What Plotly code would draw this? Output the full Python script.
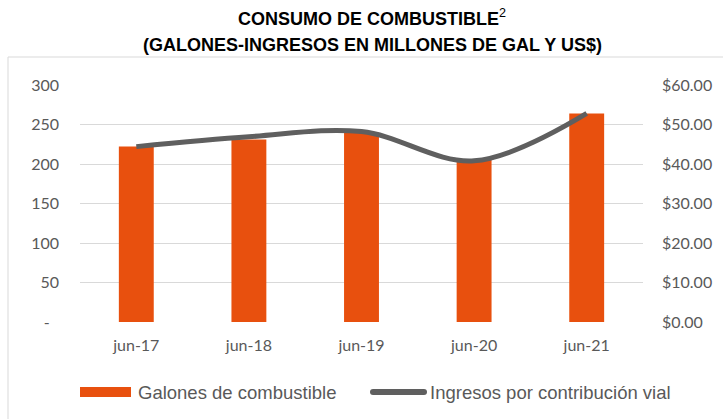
import plotly.graph_objects as go

categories = ["jun-17", "jun-18", "jun-19", "jun-20", "jun-21"]
galones = [222, 231, 240, 205, 264]
ingresos = [44.4, 46.9, 48.2, 40.8, 52.8]

left_ticks = [0, 50, 100, 150, 200, 250, 300]
left_text = ["-\u2007", "50", "100", "150", "200", "250", "300"]
right_ticks = [0, 10, 20, 30, 40, 50, 60]
right_text = ["$0.00", "$10.00", "$20.00", "$30.00", "$40.00", "$50.00", "$60.00"]

bar_color = "#E8500E"
line_color = "#5F5F5F"
text_color = "#595959"
grid_color = "#D9D9D9"

W, H = 723, 419
L, R, T, B = 80, 80, 85, 97
pw, ph = W - L - R, H - T - B


def px(x):
    return (x - L) / pw


def py(y):
    return (H - B - y) / ph


fig = go.Figure()
fig.add_trace(go.Bar(x=categories, y=galones, name="Galones de combustible",
                     marker=dict(color=bar_color, line=dict(width=0)),
                     yaxis="y", showlegend=False))
fig.add_trace(go.Scatter(x=categories, y=ingresos, name="Ingresos por contribución vial",
                         mode="lines", line=dict(color=line_color, width=5, shape="spline", smoothing=1),
                         yaxis="y2", showlegend=False))

tick_font = dict(family="Lato, Carlito, sans-serif", size=16, color=text_color)

shapes = [
    # outer chart border
    dict(type="rect", xref="paper", yref="paper", x0=px(8), x1=px(760), y0=py(460), y1=py(57),
         line=dict(color=grid_color, width=1), fillcolor="rgba(0,0,0,0)", layer="below"),
    # legend swatches
    dict(type="rect", xref="paper", yref="paper", x0=px(80), x1=px(131), y0=py(397), y1=py(387),
         line=dict(width=0), fillcolor=bar_color),
    dict(type="line", xref="paper", yref="paper", x0=px(373), x1=px(424), y0=py(392), y1=py(392),
         line=dict(color=line_color, width=6)),
    dict(type="circle", xref="paper", yref="paper", xsizemode="pixel", ysizemode="pixel",
         xanchor=px(373), yanchor=py(392), x0=-3, x1=3, y0=-3, y1=3,
         line=dict(width=0), fillcolor=line_color),
    dict(type="circle", xref="paper", yref="paper", xsizemode="pixel", ysizemode="pixel",
         xanchor=px(424), yanchor=py(392), x0=-3, x1=3, y0=-3, y1=3,
         line=dict(width=0), fillcolor=line_color),
]

legend_font = dict(family="Liberation Sans, Arial, sans-serif", size=18.5, color=text_color)
title_font = dict(family="Liberation Sans, Arial, sans-serif", size=18, color="#000000")

annotations = [
    dict(text="<b>CONSUMO DE COMBUSTIBLE</b><sup>2</sup>", xref="paper", yref="paper",
         x=px(372), y=py(31), xanchor="center", yanchor="bottom", showarrow=False, font=title_font),
    dict(text="<b>(GALONES-INGRESOS EN MILLONES DE GAL Y US$)</b>", xref="paper", yref="paper",
         x=px(372), y=py(33), xanchor="center", yanchor="top", showarrow=False, font=title_font),
    dict(text="Galones de combustible", xref="paper", yref="paper",
         x=px(136), y=py(392), xanchor="left", yanchor="middle", showarrow=False, font=legend_font),
    dict(text="Ingresos por contribución vial", xref="paper", yref="paper",
         x=px(428), y=py(392), xanchor="left", yanchor="middle", showarrow=False, font=legend_font),
]

fig.update_layout(
    width=W, height=H,
    margin=dict(l=L, r=R, t=T, b=B, pad=0),
    paper_bgcolor="white", plot_bgcolor="white",
    bargap=0.69,
    showlegend=False,
    xaxis=dict(type="category", showgrid=False, showline=False, zeroline=False, ticks="",
               tickfont=tick_font, ticklabelstandoff=12),
    yaxis=dict(range=[0, 300], tickvals=left_ticks, ticktext=left_text, showgrid=True,
               gridcolor=grid_color, gridwidth=1, zeroline=False, showline=False, ticks="",
               tickfont=tick_font, ticklabelstandoff=20),
    yaxis2=dict(range=[0, 60], tickvals=right_ticks, ticktext=right_text, overlaying="y", side="right",
                showgrid=False, zeroline=False, showline=False, ticks="",
                tickfont=tick_font, ticklabelstandoff=18),
    shapes=shapes,
    annotations=annotations,
)

fig.write_html("out.html")
